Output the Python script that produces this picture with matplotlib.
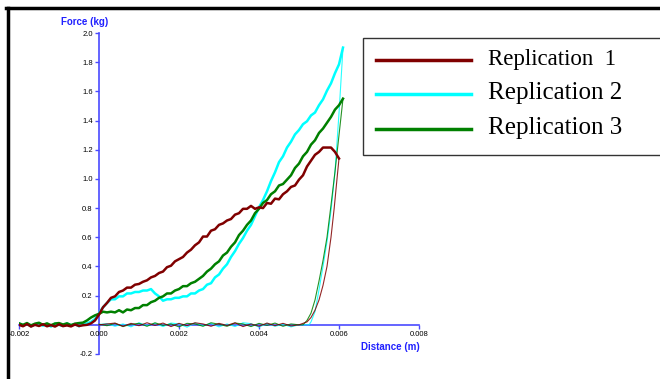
import numpy as np
import matplotlib
matplotlib.use("Agg")
import matplotlib.pyplot as plt
from matplotlib.lines import Line2D
from matplotlib.patches import Rectangle

# ---------------- datos ----------------
# carga: distancia de -0.0020 a 0.0061 cada 0.0001 m
load_x = np.round(np.arange(-20, 62) * 1e-4, 4)

rep1_load = [0.000, -0.010, 0.005, -0.012, 0.000, -0.008, 0.004, -0.010, -0.002, -0.012,
             0.003, -0.009, -0.004, -0.011, 0.002, -0.008, -0.003, 0.000, 0.010, 0.030,
             0.070, 0.120, 0.150, 0.185, 0.195, 0.225, 0.235, 0.255, 0.255, 0.275,
             0.280, 0.295, 0.305, 0.325, 0.335, 0.355, 0.365, 0.395, 0.405, 0.435,
             0.450, 0.465, 0.495, 0.515, 0.545, 0.565, 0.605, 0.605, 0.645, 0.655,
             0.685, 0.695, 0.715, 0.725, 0.755, 0.765, 0.795, 0.795, 0.815, 0.795,
             0.805, 0.800, 0.835, 0.830, 0.865, 0.860, 0.895, 0.915, 0.945, 0.955,
             0.995, 1.025, 1.085, 1.125, 1.165, 1.185, 1.215, 1.215, 1.215, 1.185,
             1.140, 1.120]

rep2_load = [0.010, -0.005, 0.008, -0.010, 0.004, 0.010, -0.006, 0.006, -0.012, 0.008,
             0.000, -0.008, 0.010, -0.004, 0.006, -0.010, 0.004, 0.010, 0.020, 0.040,
             0.080, 0.120, 0.150, 0.175, 0.175, 0.195, 0.195, 0.215, 0.215, 0.225,
             0.225, 0.235, 0.235, 0.245, 0.215, 0.195, 0.165, 0.175, 0.175, 0.185,
             0.185, 0.195, 0.195, 0.215, 0.215, 0.235, 0.245, 0.275, 0.285, 0.325,
             0.345, 0.385, 0.415, 0.465, 0.505, 0.555, 0.595, 0.645, 0.685, 0.745,
             0.805, 0.855, 0.915, 0.985, 1.045, 1.115, 1.155, 1.215, 1.255, 1.305,
             1.335, 1.375, 1.395, 1.435, 1.455, 1.505, 1.545, 1.605, 1.655, 1.725,
             1.785, 1.900]

rep3_load = [0.010, 0.000, 0.012, -0.004, 0.008, 0.014, 0.000, 0.010, -0.003, 0.009,
             0.012, 0.002, 0.010, -0.002, 0.008, 0.012, 0.015, 0.030, 0.050, 0.065,
             0.075, 0.090, 0.085, 0.090, 0.085, 0.100, 0.085, 0.105, 0.100, 0.115,
             0.115, 0.135, 0.135, 0.155, 0.165, 0.185, 0.195, 0.215, 0.215, 0.235,
             0.245, 0.265, 0.265, 0.285, 0.295, 0.315, 0.335, 0.365, 0.385, 0.415,
             0.435, 0.475, 0.495, 0.535, 0.565, 0.615, 0.645, 0.685, 0.715, 0.765,
             0.795, 0.835, 0.855, 0.895, 0.915, 0.955, 0.965, 0.995, 1.025, 1.075,
             1.105, 1.155, 1.185, 1.235, 1.265, 1.315, 1.345, 1.385, 1.425, 1.475,
             1.505, 1.550]

# descarga: caida rapida cerca de 0.006
rep1_drop_x = [0.00600, 0.00595, 0.00588, 0.00580, 0.00570, 0.00560, 0.00550, 0.00540, 0.00530, 0.00520, 0.00510]
rep1_drop_y = [1.14, 1.00, 0.80, 0.60, 0.40, 0.27, 0.17, 0.10, 0.05, 0.02, 0.01]
rep2_drop_x = [0.00610, 0.00600, 0.00590, 0.00580, 0.00570, 0.00560, 0.00550, 0.00540, 0.00530, 0.00525]
rep2_drop_y = [1.90, 1.45, 1.05, 0.78, 0.57, 0.40, 0.24, 0.09, 0.02, 0.00]
rep3_drop_x = [0.00610, 0.00600, 0.00590, 0.00580, 0.00570, 0.00560, 0.00550, 0.00540, 0.00530, 0.00520, 0.00510]
rep3_drop_y = [1.55, 1.30, 1.05, 0.82, 0.60, 0.44, 0.30, 0.17, 0.08, 0.03, 0.00]

# regreso plano cerca de cero (0.0050 -> 0.0000)
ret_x = np.round(np.arange(50, -1, -2) * 1e-4, 4)
rep1_ret = [0.000, -0.008, 0.010, -0.006, 0.012, -0.010, 0.006, -0.012, 0.014, -0.004, 0.010,
            -0.010, 0.006, 0.014, -0.006, 0.010, -0.012, 0.012, -0.004, 0.014, -0.006,
            0.010, -0.010, 0.012, 0.006, 0.000]
rep2_ret = [0.000, -0.014, 0.004, -0.010, 0.010, -0.016, 0.008, 0.014, -0.012, 0.006, -0.014,
            0.010, -0.006, 0.012, -0.016, 0.006, 0.012, -0.012, 0.010, -0.006, 0.014,
            -0.014, 0.006, -0.010, 0.008, 0.002]
rep3_ret = [0.000, 0.006, -0.010, 0.012, -0.004, 0.010, -0.012, 0.006, 0.012, -0.010, 0.004,
            0.014, -0.010, 0.006, 0.010, -0.014, 0.006, -0.004, 0.014, -0.010, 0.010,
            0.004, -0.012, 0.010, -0.006, 0.004]

labels = ["Replication  1", "Replication 2", "Replication 3"]
label_sizes = [16.5, 18, 18]
colors = ["#800000", "#00ffff", "#008000"]

x_ticks = [-0.002, 0.000, 0.002, 0.004, 0.006, 0.008]
y_ticks = [-0.2, 0.2, 0.4, 0.6, 0.8, 1.0, 1.2, 1.4, 1.6, 1.8, 2.0]

# ---------------- figura ----------------
fig = plt.figure(figsize=(6.6, 3.79), dpi=100)
W, H = 660.0, 379.0
ax = fig.add_axes([19 / W, (H - 354) / H, 400 / W, 321 / H])
ax.patch.set_alpha(0)

blue = "#4a4aff"
loads = [rep1_load, rep2_load, rep3_load]
drops = [(rep1_drop_x, rep1_drop_y), (rep2_drop_x, rep2_drop_y), (rep3_drop_x, rep3_drop_y)]
rets = [rep1_ret, rep2_ret, rep3_ret]

# regreso (lineas finas)
for i in [1, 2, 0]:
    ax.plot(list(drops[i][0]) + list(ret_x), list(drops[i][1]) + list(rets[i]),
            color=colors[i], lw=0.8, alpha=0.85, zorder=2)
# carga (lineas gruesas)
for i in [1, 2, 0]:
    n = len(load_x) - 1 if i == 0 else len(load_x)
    ax.plot(load_x[:n], loads[i][:n], color=colors[i], lw=1.8, zorder=3)

ax.set_xlim(-0.002, 0.008)
ax.set_ylim(-0.2, 2.0)
for s in ["top", "right"]:
    ax.spines[s].set_visible(False)
ax.spines["left"].set_position(("data", 0))
ax.spines["bottom"].set_position(("data", 0))
for s in ["left", "bottom"]:
    ax.spines[s].set_color(blue)
    ax.spines[s].set_linewidth(1.2)
    ax.spines[s].set_zorder(1)

ax.set_xticks(x_ticks)
ax.set_xticklabels(["%.3f" % v for v in x_ticks])
ax.set_yticks(y_ticks)
ax.set_yticklabels(["%.1f" % v for v in y_ticks])
ax.tick_params(axis="both", direction="out", length=3, width=1, color=blue,
               labelsize=5.5, pad=1.5, labelcolor="black")
for t in ax.get_xticklabels() + ax.get_yticklabels():
    t.set_family("Liberation Sans")

fig.text(85 / W, 1 - 22 / H, "Force (kg)", color="#2020ff", fontsize=7, fontweight="bold",
         ha="center", va="center", family="Liberation Sans")
fig.text(390 / W, 1 - 347 / H, "Distance (m)", color="#2020ff", fontsize=7, fontweight="bold",
         ha="center", va="center", family="Liberation Sans")

# marco negro (arriba e izquierda)
fig.add_artist(Line2D([7.5 / W, 7.5 / W], [0, 1 - 8 / H], color="black", lw=2.5))
fig.add_artist(Line2D([6.5 / W, 1], [1 - 8 / H, 1 - 8 / H], color="black", lw=2.5))

# leyenda dibujada a mano
fig.add_artist(Rectangle((363 / W, 1 - 155 / H), 300 / W, 117 / H, transform=fig.transFigure,
                         facecolor="white", edgecolor="#333333", lw=1.0))
for i, yy in enumerate([60, 94, 129]):
    fig.add_artist(Line2D([376 / W, 471 / W], [1 - yy / H, 1 - yy / H], color=colors[i], lw=2.5))
    fig.text(488 / W, 1 - (yy - 1) / H, labels[i], fontsize=label_sizes[i], family="Liberation Serif",
             ha="left", va="center", color="black")

fig.savefig("out.png", dpi=100)
